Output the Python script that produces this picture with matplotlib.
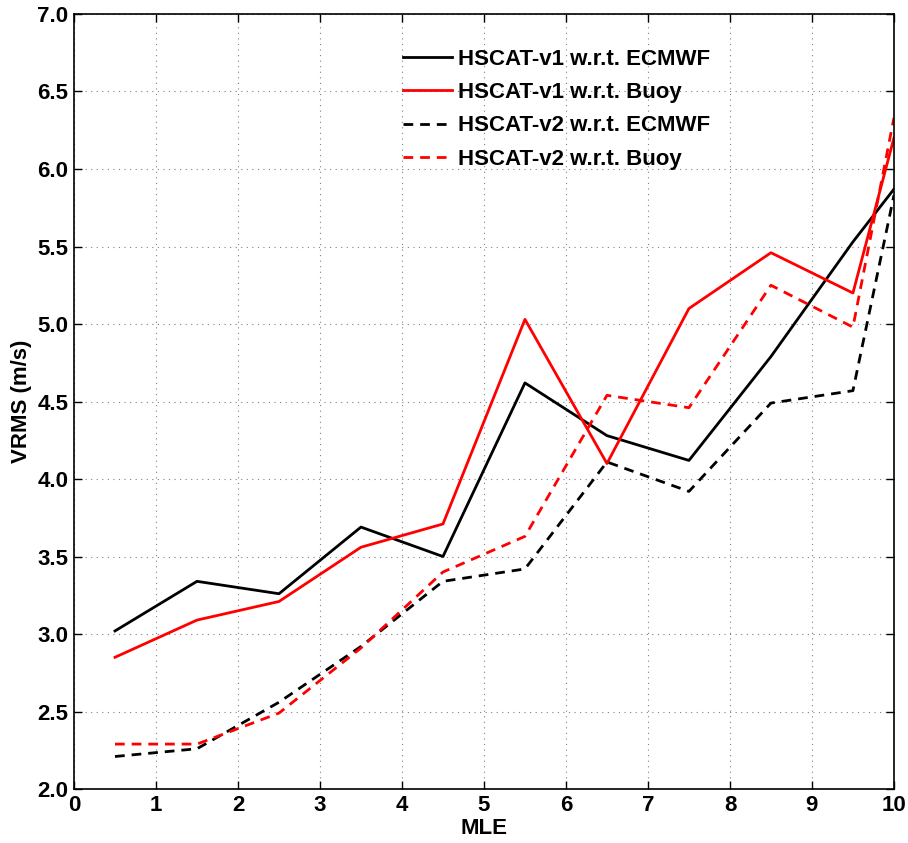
import matplotlib
matplotlib.use('Agg')
from matplotlib import pyplot as plt

plt.rcParams['font.family'] = ['Liberation Sans', 'DejaVu Sans']
plt.rcParams['font.weight'] = 'bold'

mle = [0.5, 1.5, 2.5, 3.5, 4.5, 5.5, 6.5, 7.5, 8.5, 9.5, 10]
v1_ecmwf = [3.02, 3.34, 3.26, 3.69, 3.50, 4.62, 4.28, 4.12, 4.79, 5.53, 5.87]
v1_buoy = [2.85, 3.09, 3.21, 3.56, 3.71, 5.03, 4.10, 5.10, 5.46, 5.20, 6.20]
v2_ecmwf = [2.21, 2.26, 2.56, 2.92, 3.34, 3.42, 4.11, 3.92, 4.49, 4.57, 5.83]
v2_buoy = [2.29, 2.29, 2.49, 2.91, 3.40, 3.63, 4.54, 4.46, 5.25, 4.98, 6.33]

fig = plt.figure(figsize=(9.08, 8.43), dpi=100)
ax = fig.add_axes([0.0815, 0.064, 0.903, 0.9194])

ax.plot(mle, v1_ecmwf, 'k-', lw=2, label='HSCAT-v1 w.r.t. ECMWF')
ax.plot(mle, v1_buoy, 'r-', lw=2, label='HSCAT-v1 w.r.t. Buoy')
ax.plot(mle, v2_ecmwf, 'k--', lw=2, dashes=(3.5, 2.5), label='HSCAT-v2 w.r.t. ECMWF')
ax.plot(mle, v2_buoy, 'r--', lw=2, dashes=(3.5, 2.5), label='HSCAT-v2 w.r.t. Buoy')

ax.set_xlim(0, 10)
ax.set_ylim(2, 7)
ax.set_xticks(range(0, 11))
ax.set_yticks([2.0, 2.5, 3.0, 3.5, 4.0, 4.5, 5.0, 5.5, 6.0, 6.5, 7.0])
ax.set_yticklabels(['%.1f' % v for v in ax.get_yticks()])
ax.tick_params(direction='in', top=True, right=True, length=6, width=1,
               labelsize=16, pad=4)
ax.grid(True, linestyle=(0, (1, 4)), color='gray', lw=0.8)
for s in ax.spines.values():
    s.set_linewidth(1.2)

ax.set_xlabel('MLE', fontsize=16, fontweight='bold', labelpad=2)
ax.set_ylabel('VRMS (m/s)', fontsize=16, fontweight='bold', labelpad=4)

leg = ax.legend(loc='upper left', bbox_to_anchor=(0.401, 0.955), frameon=False,
                fontsize=16, handlelength=2.2, handletextpad=0.3,
                labelspacing=0.55, borderpad=0, borderaxespad=0)
for t in leg.get_texts():
    t.set_fontweight('bold')

fig.savefig('out.png', dpi=100)
